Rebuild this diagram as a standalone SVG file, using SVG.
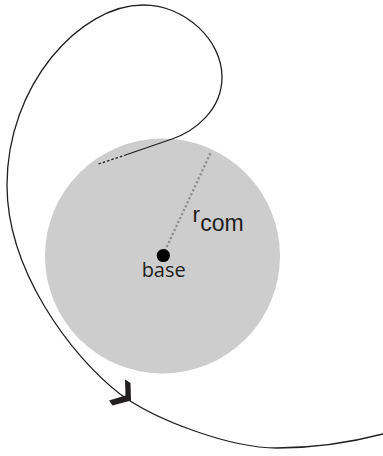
<svg xmlns="http://www.w3.org/2000/svg" width="383" height="456" viewBox="0 0 383 456">
<style>
.curve{fill:none;stroke:#231f20;stroke-width:1.3}
.lbl{font-family:"Liberation Sans",Arial,sans-serif;fill:#231f20}
</style>
<rect width="383" height="456" fill="#ffffff"/>
<g id="base-region">
<circle cx="162.5" cy="256" r="117.5" fill="#cdcdcd"/>
</g>
<g id="connectors">
<line x1="163" y1="255" x2="211" y2="152" stroke="#8e8e8e" stroke-width="2.3" stroke-dasharray="2.2 2.2"/>
<path class="curve" d="M98.5,164 L124,155.5" stroke-dasharray="2.5 2"/>
<path class="curve" d="M124,155.5 L172,139 C195,131 222,110 222,77 C222,40 185,5 143,5 C80,5 7,85 7,185 C7,270 70,355 120,394 C155,420 230,448 277,448 C320,448 360,440 383,434"/>
<polygon points="125,379.5 130.5,383 131,400.5 112.5,405.5 109,400.5 125.5,395.5" fill="#231f20"/>
</g>
<g id="base">
<circle cx="163.3" cy="255.5" r="6.6" fill="#000"/>
<text class="lbl" x="163.7" y="276.7" font-size="20" text-anchor="middle" style="font-family:'Open Sans',sans-serif">base</text>
</g>
<g id="rcom-label">
<text class="lbl" x="192.5" y="221.7" font-size="22.5">r</text>
<text class="lbl" x="200.3" y="231" font-size="23">com</text>
</g>
</svg>
